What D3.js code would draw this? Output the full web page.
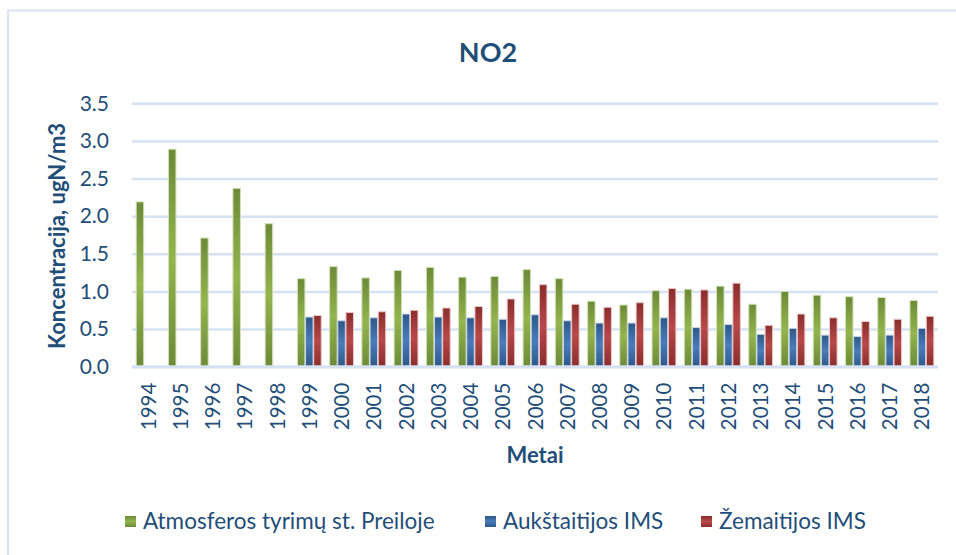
<!DOCTYPE html>
<html><head><meta charset="utf-8">
<script src="https://cdn.jsdelivr.net/npm/d3@7"></script>
<style>
html,body{margin:0;padding:0;background:#fff;}
svg{display:block;font-family:Lato,"Open Sans",sans-serif;}
</style></head>
<body><svg id="c" width="956" height="555"></svg>
<script>
const years = ["1994","1995","1996","1997","1998","1999","2000","2001","2002","2003","2004","2005","2006","2007","2008","2009","2010","2011","2012","2013","2014","2015","2016","2017","2018"];
const preila = [2.19,2.89,1.71,2.37,1.90,1.17,1.33,1.18,1.28,1.32,1.19,1.20,1.29,1.17,0.87,0.82,1.01,1.03,1.07,0.83,1.00,0.95,0.93,0.92,0.88];
const aukstaitija = [null,null,null,null,null,0.66,0.61,0.65,0.70,0.66,0.65,0.63,0.69,0.61,0.58,0.58,0.65,0.52,0.56,0.43,0.51,0.42,0.40,0.42,0.51];
const zemaitija = [null,null,null,null,null,0.68,0.72,0.73,0.75,0.78,0.80,0.90,1.09,0.83,0.79,0.85,1.04,1.02,1.11,0.55,0.70,0.65,0.60,0.63,0.67];
const seriesNames = ["Atmosferos tyrimų st. Preiloje","Aukštaitijos IMS","Žemaitijos IMS"];
const yTicks = [0,0.5,1.0,1.5,2.0,2.5,3.0,3.5];
const titleText = "NO2";
const yTitle = "Koncentracija, ugN/m3";
const xTitle = "Metai";

const seriesValues = [preila, aukstaitija, zemaitija];
const gradStops = [["#6c8a38","#93b44e"],["#2d5788","#4a7cbb"],["#8a2d2c","#b8484a"]];
const strokes = ["#d3e2b8","#c9d6ea","#ebc9c8"];
const textColor = "#1f4e79";
const gridColor = "#d6e2f3";

const svg = d3.select("#c");
const defs = svg.append("defs");
gradStops.forEach((g,i)=>{
  const lg = defs.append("linearGradient").attr("id","g"+i).attr("x1",0).attr("y1",0).attr("x2",0).attr("y2",1);
  lg.append("stop").attr("offset","0%").attr("stop-color",g[0]);
  lg.append("stop").attr("offset","50%").attr("stop-color",g[1]);
  lg.append("stop").attr("offset","100%").attr("stop-color",g[0]);
});

// frame
svg.append("rect").attr("x",8).attr("y",10.5).attr("width",1000).attr("height",600)
  .attr("fill","none").attr("stroke","#d9e4f2").attr("stroke-width",2);

const pLeft=132, pRight=938, pTop=103.3, pBottom=366.7;
const y = d3.scaleLinear().domain([0,3.5]).range([pBottom,pTop]);
const x0 = d3.scaleBand().domain(years).range([pLeft,pRight]).paddingInner(0.22).paddingOuter(0.11);
const x1 = d3.scaleBand().domain([0,1,2]).range([0,x0.bandwidth()]).padding(0.08);

// grid
const yAxis = d3.axisLeft(y).tickValues(yTicks).tickFormat(d3.format(".1f")).tickSize(-(pRight-pLeft)).tickPadding(23);
const ga = svg.append("g").attr("transform",`translate(${pLeft},0)`).call(yAxis);
ga.select(".domain").remove();
ga.selectAll(".tick line").attr("stroke",gridColor).attr("stroke-width",2.5);
ga.selectAll(".tick text").attr("fill",textColor).style("font-size","21px").attr("font-family","Lato");

// bars
years.forEach((yr,i)=>{
  seriesValues.forEach((arr,s)=>{
    const v = arr[i];
    if(v==null) return;
    svg.append("rect")
      .attr("x",x0(yr)+x1(s)).attr("y",y(v))
      .attr("width",x1.bandwidth()).attr("height",y(0)-y(v))
      .attr("fill",`url(#g${s})`).attr("stroke",strokes[s]).attr("stroke-width",1);
  });
});

// baseline
svg.append("line").attr("x1",pLeft).attr("x2",pRight).attr("y1",pBottom).attr("y2",pBottom)
  .attr("stroke",gridColor).attr("stroke-width",3);

// x axis labels
const xAxis = d3.axisBottom(x0).tickSize(0).tickPadding(0);
const gx = svg.append("g").attr("transform",`translate(0,${pBottom})`).call(xAxis);
gx.select(".domain").remove();
gx.selectAll(".tick text").attr("fill",textColor).style("font-size","20.5px").attr("font-family","Lato")
  .attr("text-anchor","end").attr("dy",null).attr("y",0)
  .attr("transform","translate(7.5,16) rotate(-90)");

// titles
svg.append("text").attr("x",488).attr("y",61.5).attr("text-anchor","middle")
  .attr("fill","#1f4e79").style("font-size","27px").style("font-weight","bold").text(titleText);
svg.append("text").attr("transform","translate(65,236) rotate(-90)").attr("text-anchor","middle")
  .attr("fill","#1f4e79").style("font-size","22px").style("font-weight","bold").text(yTitle);
svg.append("text").attr("x",535).attr("y",463).attr("text-anchor","middle")
  .attr("fill","#1f4e79").style("font-size","22px").style("font-weight","bold").text(xTitle);

// legend
const legX = [125,485,701];
seriesNames.forEach((n,i)=>{
  svg.append("rect").attr("x",legX[i]).attr("y",516).attr("width",11).attr("height",11).attr("fill",`url(#g${i})`);
  svg.append("text").attr("x",legX[i]+18).attr("y",529).attr("fill",textColor)
    .style("font-size","22.5px").text(n);
});
</script></body></html>
